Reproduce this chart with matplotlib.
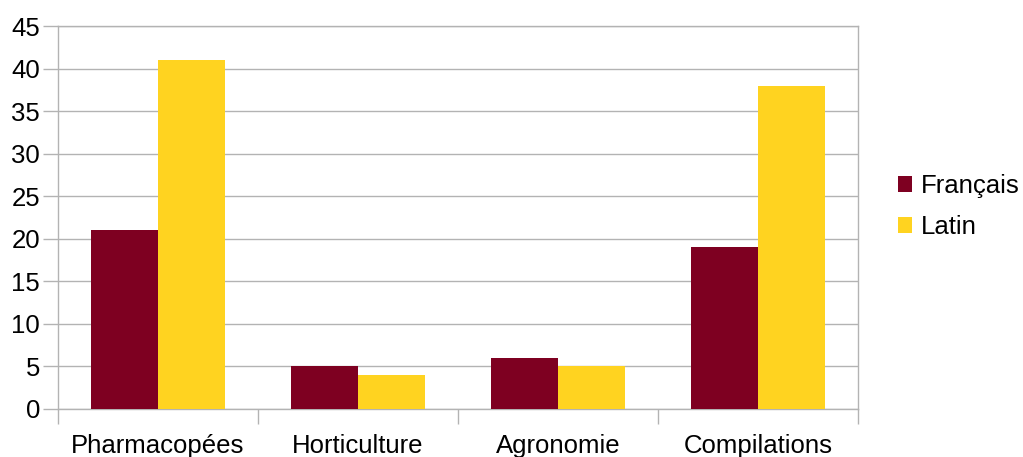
import numpy as np
import matplotlib.pyplot as plt

plt.rcParams['font.family'] = ['Liberation Sans', 'DejaVu Sans']

# data
categories = ["Pharmacopées", "Horticulture", "Agronomie", "Compilations"]
francais = [21, 5, 6, 19]
latin = [41, 4, 5, 38]
series_names = ["Français", "Latin"]
colors = ["#7e0021", "#ffd320"]

fig = plt.figure(figsize=(10.23, 4.57), dpi=100)
ax = fig.add_axes([58/1023, 48/457, 800/1023, 383/457])

x = np.arange(len(categories))
w = 0.335
ax.bar(x - w/2, francais, w, color=colors[0], label=series_names[0], zorder=3)
ax.bar(x + w/2, latin, w, color=colors[1], label=series_names[1], zorder=3)

ax.set_xlim(-0.5, len(categories) - 0.5)
ax.set_ylim(0, 45)
ax.set_yticks(range(0, 46, 5))
ax.yaxis.grid(True, color="#b3b3b3", linewidth=1, zorder=0)

# category labels centred, ticks on boundaries
ax.set_xticks(x)
ax.set_xticklabels(categories, fontsize=18.5)
ax.tick_params(axis='x', length=0, pad=18)
ax.set_xticks(np.arange(-0.5, len(categories)), minor=True)
ax.tick_params(axis='x', which='minor', length=11, color="#b3b3b3", width=1)
ax.tick_params(axis='y', length=11, color="#b3b3b3", width=1, labelsize=18.5, pad=2)

for s in ax.spines.values():
    s.set_color("#b3b3b3")
    s.set_linewidth(1)

fig.legend(loc='center left', bbox_to_anchor=(0.855, 0.548), frameon=False,
           fontsize=18.5, handlelength=0.55, handleheight=0.55, handletextpad=0.35,
           labelspacing=0.65)

plt.savefig("out.png", dpi=100)
